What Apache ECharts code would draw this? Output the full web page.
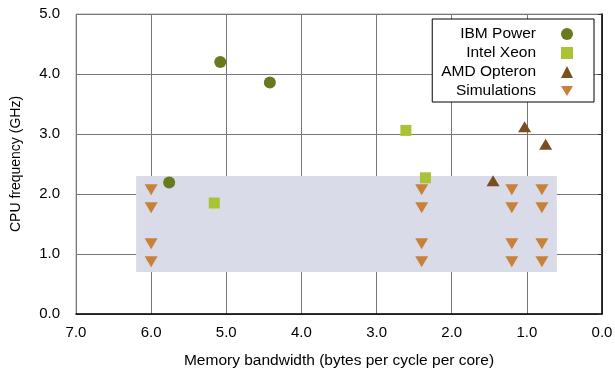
<!DOCTYPE html>
<html>
<head>
<meta charset="utf-8">
<script src="https://cdn.jsdelivr.net/npm/echarts@6/dist/echarts.min.js"></script>
<style>html,body{margin:0;padding:0;background:#fff}#c{width:615px;height:371px}</style>
</head>
<body>
<div id="c"></div>
<script>
// Data (x = memory bandwidth, y = CPU frequency)
const seriesNames = ['IBM Power', 'Intel Xeon', 'AMD Opteron', 'Simulations'];
const ibmPower = [[5.08, 4.20], [4.42, 3.86], [5.76, 2.19]];
const intelXeon = [[5.16, 1.85], [2.61, 3.06], [2.35, 2.27]];
const amdOpteron = [[1.03, 3.12], [0.75, 2.83], [1.45, 2.22]];
const simX = [6.0, 2.4, 1.2, 0.8];
const simY = [2.07, 1.77, 1.17, 0.87];
const simulations = [];
simX.forEach(x => simY.forEach(y => simulations.push([x, y])));
const shadedX = [6.2, 0.6];
const shadedY = [0.7, 2.3];
const xTicks = [0, 1, 2, 3, 4, 5, 6, 7];
const yTicks = [0, 1, 2, 3, 4, 5];

const FONT = 'Liberation Sans';
const downTri = 'path://M0,0 L12,0 L6,10 Z';
const chart = echarts.init(document.getElementById('c'), null, {renderer: 'canvas'});
chart.setOption({
  animation: false,
  textStyle: {fontFamily: FONT},
  grid: {left: 76, right: 13, top: 14, bottom: 57, show: true, borderColor: '#aaaaaa', borderWidth: 1,
    backgroundColor: 'transparent', containLabel: false, outerBoundsMode: 'none'},
  legend: {
    orient: 'vertical', right: 21, top: 19, align: 'right',
    backgroundColor: '#fff', borderColor: '#000', borderWidth: 1,
    padding: [7, 21, 3, 9], itemGap: 3, itemWidth: 12, itemHeight: 12,
    data: [
      {name: seriesNames[0], icon: 'circle'},
      {name: seriesNames[1], icon: 'rect'},
      {name: seriesNames[2], icon: 'triangle'},
      {name: seriesNames[3], icon: downTri}
    ],
    formatter: '{a|{name}}',
    textStyle: {rich: {a: {fontSize: 15.5, fontFamily: FONT, color: '#000', lineHeight: 17, padding: [0, 20, 0, 0]}}}
  },
  xAxis: {
    type: 'value', inverse: true, min: xTicks[0], max: xTicks[xTicks.length - 1], interval: 1,
    name: 'Memory bandwidth (bytes per cycle per core)', nameLocation: 'middle', nameGap: 39,
    nameTextStyle: {fontSize: 15.5, color: '#000', fontFamily: FONT},
    axisLine: {show: true, lineStyle: {color: '#000', width: 1.5}},
    axisTick: {show: false},
    axisLabel: {fontSize: 15, color: '#000', margin: 11, formatter: v => v.toFixed(1)},
    splitLine: {show: true, lineStyle: {color: '#777', width: 1}}
  },
  yAxis: {
    type: 'value', min: yTicks[0], max: yTicks[yTicks.length - 1], interval: 1,
    name: 'CPU frequency (GHz)', nameLocation: 'middle', nameGap: 53,
    nameTextStyle: {fontSize: 14, color: '#000', fontFamily: FONT},
    axisLine: {show: true, lineStyle: {color: '#000', width: 1.5}},
    axisTick: {show: true, inside: false, length: 4, lineStyle: {color: '#333'}},
    axisLabel: {fontSize: 15, color: '#000', margin: 16, formatter: v => v.toFixed(1)},
    splitLine: {show: true, lineStyle: {color: '#777', width: 1}}
  },
  series: [
    {
      type: 'scatter', name: '__area', data: [], z: 1, silent: true,
      markArea: {silent: true, itemStyle: {color: '#d9dbe9', opacity: 1},
        data: [[{xAxis: shadedX[0], yAxis: shadedY[0]}, {xAxis: shadedX[1], yAxis: shadedY[1]}]]}
    },
    {type: 'scatter', name: seriesNames[0], data: ibmPower, symbol: 'circle', symbolSize: 12, z: 3,
      itemStyle: {color: '#687a1f', opacity: 1}},
    {type: 'scatter', name: seriesNames[1], data: intelXeon, symbol: 'rect', symbolSize: 11, z: 3,
      itemStyle: {color: '#a9c334', opacity: 1}},
    {type: 'scatter', name: seriesNames[2], data: amdOpteron, symbol: 'triangle', symbolSize: [13, 11], z: 3,
      itemStyle: {color: '#7a4e1f', opacity: 1}},
    {type: 'scatter', name: seriesNames[3], data: simulations, symbol: downTri, symbolSize: [13, 11], z: 3,
      itemStyle: {color: '#c8813a', opacity: 1}}
  ]
});
</script>
</body>
</html>
